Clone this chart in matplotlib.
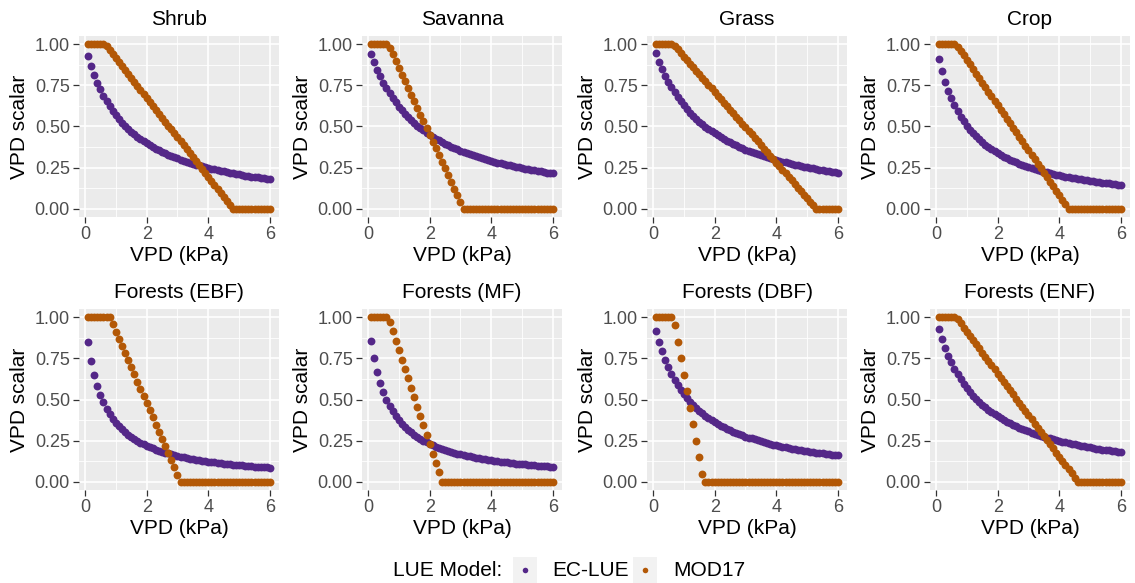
import matplotlib
matplotlib.use("Agg")
import matplotlib.pyplot as plt
from matplotlib.patches import Rectangle

plt.rcParams['font.family'] = ['Liberation Sans', 'DejaVu Sans']

# ---------------- data ----------------
vpd = [0.1, 0.2, 0.3, 0.4, 0.5, 0.6, 0.7, 0.8, 0.9, 1.0,
       1.1, 1.2, 1.3, 1.4, 1.5, 1.6, 1.7, 1.8, 1.9, 2.0,
       2.1, 2.2, 2.3, 2.4, 2.5, 2.6, 2.7, 2.8, 2.9, 3.0,
       3.1, 3.2, 3.3, 3.4, 3.5, 3.6, 3.7, 3.8, 3.9, 4.0,
       4.1, 4.2, 4.3, 4.4, 4.5, 4.6, 4.7, 4.8, 4.9, 5.0,
       5.1, 5.2, 5.3, 5.4, 5.5, 5.6, 5.7, 5.8, 5.9, 6.0]

biomes = ["Shrub", "Savanna", "Grass", "Crop",
          "Forests (EBF)", "Forests (MF)", "Forests (DBF)", "Forests (ENF)"]

models = ["EC-LUE", "MOD17"]

shrub_eclue = [0.930, 0.868, 0.815, 0.767, 0.725, 0.688, 0.653, 0.623, 0.595, 0.569,
               0.545, 0.524, 0.504, 0.485, 0.468, 0.452, 0.437, 0.423, 0.410, 0.398,
               0.386, 0.375, 0.365, 0.355, 0.346, 0.337, 0.328, 0.320, 0.313, 0.306,
               0.299, 0.292, 0.286, 0.280, 0.274, 0.268, 0.263, 0.258, 0.253, 0.248,
               0.244, 0.239, 0.235, 0.231, 0.227, 0.223, 0.219, 0.216, 0.212, 0.209,
               0.206, 0.202, 0.199, 0.196, 0.194, 0.191, 0.188, 0.185, 0.183, 0.180]
shrub_mod17 = [1.0, 1.0, 1.0, 1.0, 1.0, 1.0, 0.988, 0.964, 0.940, 0.916,
               0.892, 0.867, 0.843, 0.819, 0.795, 0.771, 0.747, 0.723, 0.699, 0.675,
               0.651, 0.627, 0.602, 0.578, 0.554, 0.530, 0.506, 0.482, 0.458, 0.434,
               0.410, 0.386, 0.361, 0.337, 0.313, 0.289, 0.265, 0.241, 0.217, 0.193,
               0.169, 0.145, 0.120, 0.096, 0.072, 0.048, 0.024, 0.0, 0.0, 0.0,
               0.0, 0.0, 0.0, 0.0, 0.0, 0.0, 0.0, 0.0, 0.0, 0.0]

savanna_eclue = [0.943, 0.891, 0.845, 0.804, 0.766, 0.732, 0.701, 0.672, 0.646, 0.621,
                 0.599, 0.577, 0.558, 0.539, 0.522, 0.506, 0.491, 0.477, 0.463, 0.451,
                 0.439, 0.427, 0.416, 0.406, 0.396, 0.387, 0.378, 0.369, 0.361, 0.353,
                 0.346, 0.339, 0.332, 0.325, 0.319, 0.313, 0.307, 0.301, 0.296, 0.291,
                 0.286, 0.281, 0.276, 0.272, 0.267, 0.263, 0.259, 0.255, 0.251, 0.247,
                 0.243, 0.240, 0.236, 0.233, 0.230, 0.227, 0.223, 0.220, 0.218, 0.215]
savanna_mod17 = [1.0, 1.0, 1.0, 1.0, 1.0, 1.0, 0.980, 0.939, 0.898, 0.857,
                 0.816, 0.776, 0.735, 0.694, 0.653, 0.612, 0.571, 0.531, 0.490, 0.449,
                 0.408, 0.367, 0.327, 0.286, 0.245, 0.204, 0.163, 0.122, 0.082, 0.041,
                 0.0, 0.0, 0.0, 0.0, 0.0, 0.0, 0.0, 0.0, 0.0, 0.0,
                 0.0, 0.0, 0.0, 0.0, 0.0, 0.0, 0.0, 0.0, 0.0, 0.0,
                 0.0, 0.0, 0.0, 0.0, 0.0, 0.0, 0.0, 0.0, 0.0, 0.0]

grass_eclue = [0.944, 0.894, 0.849, 0.809, 0.772, 0.738, 0.707, 0.679, 0.653, 0.628,
               0.606, 0.585, 0.565, 0.547, 0.530, 0.514, 0.499, 0.484, 0.471, 0.458,
               0.446, 0.434, 0.424, 0.413, 0.403, 0.394, 0.385, 0.376, 0.368, 0.360,
               0.353, 0.346, 0.339, 0.332, 0.326, 0.319, 0.314, 0.308, 0.302, 0.297,
               0.292, 0.287, 0.282, 0.278, 0.273, 0.269, 0.264, 0.260, 0.256, 0.253,
               0.249, 0.245, 0.242, 0.238, 0.235, 0.232, 0.229, 0.226, 0.223, 0.220]
grass_mod17 = [1.0, 1.0, 1.0, 1.0, 1.0, 1.0, 0.989, 0.968, 0.946, 0.925,
               0.903, 0.882, 0.860, 0.839, 0.817, 0.796, 0.774, 0.753, 0.731, 0.710,
               0.688, 0.667, 0.645, 0.624, 0.602, 0.581, 0.559, 0.538, 0.516, 0.495,
               0.473, 0.452, 0.430, 0.409, 0.387, 0.366, 0.344, 0.323, 0.301, 0.280,
               0.258, 0.237, 0.215, 0.194, 0.172, 0.151, 0.129, 0.108, 0.086, 0.065,
               0.043, 0.022, 0.0, 0.0, 0.0, 0.0, 0.0, 0.0, 0.0, 0.0]

crop_eclue = [0.911, 0.836, 0.773, 0.718, 0.671, 0.630, 0.593, 0.560, 0.531, 0.505,
              0.481, 0.459, 0.440, 0.421, 0.405, 0.389, 0.375, 0.362, 0.349, 0.338,
              0.327, 0.317, 0.307, 0.298, 0.290, 0.282, 0.274, 0.267, 0.260, 0.254,
              0.248, 0.242, 0.236, 0.231, 0.226, 0.221, 0.216, 0.212, 0.207, 0.203,
              0.199, 0.195, 0.192, 0.188, 0.185, 0.181, 0.178, 0.175, 0.172, 0.169,
              0.167, 0.164, 0.161, 0.159, 0.156, 0.154, 0.152, 0.150, 0.147, 0.145]
crop_mod17 = [1.0, 1.0, 1.0, 1.0, 1.0, 1.0, 0.986, 0.959, 0.932, 0.904,
              0.877, 0.849, 0.822, 0.795, 0.767, 0.740, 0.712, 0.685, 0.658, 0.630,
              0.603, 0.575, 0.548, 0.521, 0.493, 0.466, 0.438, 0.411, 0.384, 0.356,
              0.329, 0.301, 0.274, 0.247, 0.219, 0.192, 0.164, 0.137, 0.110, 0.082,
              0.055, 0.027, 0.0, 0.0, 0.0, 0.0, 0.0, 0.0, 0.0, 0.0,
              0.0, 0.0, 0.0, 0.0, 0.0, 0.0, 0.0, 0.0, 0.0, 0.0]

ebf_eclue = [0.848, 0.737, 0.651, 0.583, 0.528, 0.483, 0.444, 0.412, 0.384, 0.359,
             0.337, 0.318, 0.301, 0.286, 0.272, 0.259, 0.248, 0.237, 0.228, 0.219,
             0.211, 0.203, 0.196, 0.189, 0.183, 0.177, 0.172, 0.167, 0.162, 0.157,
             0.153, 0.149, 0.145, 0.141, 0.138, 0.135, 0.131, 0.128, 0.126, 0.123,
             0.120, 0.118, 0.115, 0.113, 0.111, 0.109, 0.106, 0.104, 0.103, 0.101,
             0.099, 0.097, 0.096, 0.094, 0.092, 0.091, 0.089, 0.088, 0.087, 0.085]
ebf_mod17 = [1.0, 1.0, 1.0, 1.0, 1.0, 1.0, 1.0, 1.0, 0.957, 0.913,
             0.870, 0.826, 0.783, 0.739, 0.696, 0.652, 0.609, 0.565, 0.522, 0.478,
             0.435, 0.391, 0.348, 0.304, 0.261, 0.217, 0.174, 0.130, 0.087, 0.043,
             0.0, 0.0, 0.0, 0.0, 0.0, 0.0, 0.0, 0.0, 0.0, 0.0,
             0.0, 0.0, 0.0, 0.0, 0.0, 0.0, 0.0, 0.0, 0.0, 0.0,
             0.0, 0.0, 0.0, 0.0, 0.0, 0.0, 0.0, 0.0, 0.0, 0.0]

mf_eclue = [0.857, 0.750, 0.667, 0.600, 0.545, 0.500, 0.462, 0.429, 0.400, 0.375,
            0.353, 0.333, 0.316, 0.300, 0.286, 0.273, 0.261, 0.250, 0.240, 0.231,
            0.222, 0.214, 0.207, 0.200, 0.194, 0.188, 0.182, 0.176, 0.171, 0.167,
            0.162, 0.158, 0.154, 0.150, 0.146, 0.143, 0.140, 0.136, 0.133, 0.130,
            0.128, 0.125, 0.122, 0.120, 0.118, 0.115, 0.113, 0.111, 0.109, 0.107,
            0.105, 0.103, 0.102, 0.100, 0.098, 0.097, 0.095, 0.094, 0.092, 0.091]
mf_mod17 = [1.0, 1.0, 1.0, 1.0, 1.0, 1.0, 0.971, 0.914, 0.857, 0.800,
            0.743, 0.686, 0.629, 0.571, 0.514, 0.457, 0.400, 0.343, 0.286, 0.229,
            0.171, 0.114, 0.057, 0.0, 0.0, 0.0, 0.0, 0.0, 0.0, 0.0,
            0.0, 0.0, 0.0, 0.0, 0.0, 0.0, 0.0, 0.0, 0.0, 0.0,
            0.0, 0.0, 0.0, 0.0, 0.0, 0.0, 0.0, 0.0, 0.0, 0.0,
            0.0, 0.0, 0.0, 0.0, 0.0, 0.0, 0.0, 0.0, 0.0, 0.0]

dbf_eclue = [0.919, 0.851, 0.792, 0.740, 0.695, 0.655, 0.620, 0.588, 0.559, 0.533,
             0.509, 0.487, 0.467, 0.449, 0.432, 0.416, 0.401, 0.388, 0.375, 0.363,
             0.352, 0.341, 0.331, 0.322, 0.313, 0.305, 0.297, 0.289, 0.282, 0.275,
             0.269, 0.263, 0.257, 0.251, 0.246, 0.241, 0.236, 0.231, 0.226, 0.222,
             0.218, 0.213, 0.210, 0.206, 0.202, 0.199, 0.195, 0.192, 0.189, 0.186,
             0.183, 0.180, 0.177, 0.174, 0.172, 0.169, 0.167, 0.164, 0.162, 0.160]
dbf_mod17 = [1.0, 1.0, 1.0, 1.0, 1.0, 1.0, 0.95, 0.85, 0.75, 0.65,
             0.55, 0.45, 0.35, 0.25, 0.15, 0.05, 0.0, 0.0, 0.0, 0.0,
             0.0, 0.0, 0.0, 0.0, 0.0, 0.0, 0.0, 0.0, 0.0, 0.0,
             0.0, 0.0, 0.0, 0.0, 0.0, 0.0, 0.0, 0.0, 0.0, 0.0,
             0.0, 0.0, 0.0, 0.0, 0.0, 0.0, 0.0, 0.0, 0.0, 0.0,
             0.0, 0.0, 0.0, 0.0, 0.0, 0.0, 0.0, 0.0, 0.0, 0.0]

enf_eclue = [0.930, 0.868, 0.815, 0.767, 0.725, 0.688, 0.653, 0.623, 0.595, 0.569,
             0.545, 0.524, 0.504, 0.485, 0.468, 0.452, 0.437, 0.423, 0.410, 0.398,
             0.386, 0.375, 0.365, 0.355, 0.346, 0.337, 0.328, 0.320, 0.313, 0.306,
             0.299, 0.292, 0.286, 0.280, 0.274, 0.268, 0.263, 0.258, 0.253, 0.248,
             0.244, 0.239, 0.235, 0.231, 0.227, 0.223, 0.219, 0.216, 0.212, 0.209,
             0.206, 0.202, 0.199, 0.196, 0.194, 0.191, 0.188, 0.185, 0.183, 0.180]
enf_mod17 = [1.0, 1.0, 1.0, 1.0, 1.0, 1.0, 0.987, 0.962, 0.937, 0.911,
             0.886, 0.861, 0.835, 0.810, 0.785, 0.759, 0.734, 0.709, 0.684, 0.658,
             0.633, 0.608, 0.582, 0.557, 0.532, 0.506, 0.481, 0.456, 0.430, 0.405,
             0.380, 0.354, 0.329, 0.304, 0.278, 0.253, 0.228, 0.203, 0.177, 0.152,
             0.127, 0.101, 0.076, 0.051, 0.025, 0.0, 0.0, 0.0, 0.0, 0.0,
             0.0, 0.0, 0.0, 0.0, 0.0, 0.0, 0.0, 0.0, 0.0, 0.0]

x_ticks = [0, 2, 4, 6]
y_ticks = [0.0, 0.25, 0.50, 0.75, 1.00]
y_tick_labels = ["0.00", "0.25", "0.50", "0.75", "1.00"]

# ---------------- style ----------------
PURPLE = "#542788"
ORANGE = "#B35806"
PANEL_BG = "#EBEBEB"

series = [(shrub_eclue, shrub_mod17), (savanna_eclue, savanna_mod17),
          (grass_eclue, grass_mod17), (crop_eclue, crop_mod17),
          (ebf_eclue, ebf_mod17), (mf_eclue, mf_mod17),
          (dbf_eclue, dbf_mod17), (enf_eclue, enf_mod17)]

W, H = 1135, 583
fig = plt.figure(figsize=(W / 100, H / 100), dpi=100)
fig.patch.set_facecolor("white")

col_left = [79, 362, 647, 930]
row_top = [36, 309]
pw, ph = 200, 181

for i, (title, (ec, mod)) in enumerate(zip(biomes, series)):
    r, c = divmod(i, 4)
    ax = fig.add_axes([col_left[c] / W, 1 - (row_top[r] + ph) / H, pw / W, ph / H])
    ax.set_facecolor(PANEL_BG)
    ax.scatter(vpd, ec, s=32, color=PURPLE, linewidths=0, zorder=3)
    ax.scatter(vpd, mod, s=32, color=ORANGE, linewidths=0, zorder=4)
    ax.set_xlim(-0.195, 6.295)
    ax.set_ylim(-0.05, 1.05)
    ax.set_xticks(x_ticks)
    ax.set_xticks([1, 3, 5], minor=True)
    ax.set_yticks(y_ticks)
    ax.set_yticklabels(y_tick_labels)
    ax.set_yticks([0.125, 0.375, 0.625, 0.875], minor=True)
    ax.grid(which="major", color="white", lw=1.2)
    ax.grid(which="minor", color="white", lw=0.6)
    ax.set_axisbelow(True)
    for s in ax.spines.values():
        s.set_visible(False)
    ax.tick_params(which="major", length=4, width=0.9, color="#333333",
                   labelcolor="#4D4D4D", labelsize=13, pad=2.5)
    ax.tick_params(which="minor", length=0)
    ax.set_title(title, fontsize=15, color="black", pad=8)
    ax.set_xlabel("VPD (kPa)", fontsize=15, labelpad=2)
    ax.set_ylabel("VPD scalar", fontsize=15, labelpad=4)

# ---------------- legend ----------------
lax = fig.add_axes([0, 0, 1, 1], zorder=-1)
lax.set_xlim(0, W)
lax.set_ylim(H, 0)
lax.axis("off")
ly = 570
lax.text(393, ly, "LUE Model:", fontsize=15, va="center", ha="left", color="black")
key_x = [525, 645]
txt_x = [552, 673]
cols = [PURPLE, ORANGE]
for kx, tx, col, lab in zip(key_x, txt_x, cols, models):
    lax.add_patch(Rectangle((kx - 12, ly - 13), 24, 26, facecolor="#F2F2F2",
                            edgecolor="none"))
    lax.scatter([kx], [ly], s=16, color=col, linewidths=0)
    lax.text(tx, ly, lab, fontsize=15, va="center", ha="left", color="black")

fig.savefig("out.png", dpi=100)
